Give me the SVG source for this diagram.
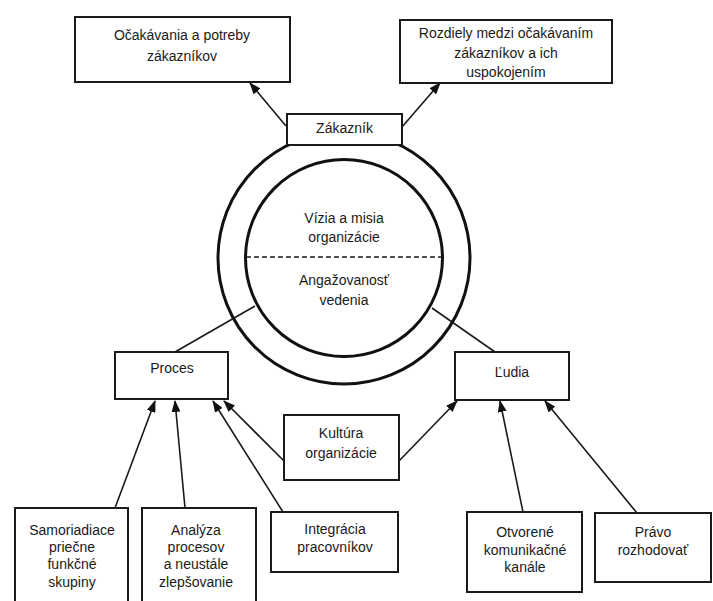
<svg xmlns="http://www.w3.org/2000/svg" width="713" height="601" viewBox="0 0 713 601">
<style>
  .box { fill: #ffffff; stroke: #1a1a1a; stroke-width: 2; }
  .ring { fill: none; stroke: #111111; stroke-width: 3; }
  .conn { fill: none; stroke: #1a1a1a; stroke-width: 1.6; }
  .arr { marker-end: url(#ah); }
  .dash { fill: none; stroke: #1a1a1a; stroke-width: 1.6; stroke-dasharray: 5 3; }
  text { font-family: "Liberation Sans", Arial, sans-serif; font-size: 14px; fill: #1a1a1a; text-anchor: middle; }
</style>
<defs>
  <marker id="ah" markerUnits="userSpaceOnUse" markerWidth="12" markerHeight="9" refX="11" refY="4.5" orient="auto">
    <path d="M0,0 L12,4.5 L0,9 z" fill="#111111"/>
  </marker>
</defs>
<rect x="0" y="0" width="713" height="601" fill="#ffffff"/>

<g id="circle">
  <circle class="ring" cx="344" cy="258" r="126"/>
  <circle class="ring" cx="344" cy="258" r="98.5"/>
  <line class="dash" x1="246" y1="257" x2="442" y2="257"/>
  <text x="344" y="223">Vízia a misia</text>
  <text x="344" y="242">organizácie</text>
  <text x="344" y="285">Angažovanosť</text>
  <text x="344" y="305">vedenia</text>
</g>

<g id="connectors">
  <line class="conn arr" x1="286" y1="126" x2="250" y2="83"/>
  <line class="conn arr" x1="402" y1="127" x2="440" y2="83"/>
  <line class="conn" x1="255" y1="306" x2="175" y2="352"/>
  <line class="conn" x1="432" y1="308" x2="495" y2="352"/>
  <line class="conn arr" x1="284" y1="461" x2="224" y2="401"/>
  <line class="conn arr" x1="399" y1="461" x2="457" y2="401"/>
  <line class="conn arr" x1="115" y1="508" x2="155" y2="401"/>
  <line class="conn arr" x1="185" y1="508" x2="175" y2="401"/>
  <line class="conn arr" x1="283" y1="512" x2="213" y2="401"/>
  <line class="conn arr" x1="523" y1="512" x2="500" y2="401"/>
  <line class="conn arr" x1="637" y1="513" x2="545" y2="401"/>
</g>

<g id="ocakavania">
  <rect class="box" x="75" y="17" width="215" height="65"/>
  <text x="182" y="40">Očakávania a potreby</text>
  <text x="182" y="61">zákazníkov</text>
</g>

<g id="rozdiely">
  <rect class="box" x="400" y="20" width="212" height="63"/>
  <text x="506" y="38">Rozdiely medzi očakávaním</text>
  <text x="506" y="58">zákazníkov a ich</text>
  <text x="506" y="77">uspokojením</text>
</g>

<g id="zakaznik">
  <rect class="box" x="287" y="114" width="115" height="31"/>
  <text x="344.5" y="133">Zákazník</text>
</g>

<g id="proces">
  <rect class="box" x="115" y="352" width="113" height="47"/>
  <text x="172" y="373">Proces</text>
</g>

<g id="ludia">
  <rect class="box" x="455" y="352" width="114" height="48"/>
  <text x="512" y="377">Ľudia</text>
</g>

<g id="kultura">
  <rect class="box" x="284" y="415" width="115" height="65"/>
  <text x="341" y="438">Kultúra</text>
  <text x="341" y="458">organizácie</text>
</g>

<g id="samoriadiace">
  <rect class="box" x="15" y="508" width="113" height="105"/>
  <text x="72" y="535">Samoriadiace</text>
  <text x="72" y="552">priečne</text>
  <text x="72" y="569">funkčné</text>
  <text x="72" y="587">skupiny</text>
</g>

<g id="analyza">
  <rect class="box" x="142" y="508" width="114" height="105"/>
  <text x="196" y="535">Analýza</text>
  <text x="196" y="552">procesov</text>
  <text x="196" y="569">a neustále</text>
  <text x="196" y="587">zlepšovanie</text>
</g>

<g id="integracia">
  <rect class="box" x="271" y="512" width="127" height="60"/>
  <text x="335" y="534">Integrácia</text>
  <text x="335" y="552">pracovníkov</text>
</g>

<g id="otvorene">
  <rect class="box" x="467" y="512" width="115" height="80"/>
  <text x="525" y="537">Otvorené</text>
  <text x="525" y="555">komunikačné</text>
  <text x="525" y="572">kanále</text>
</g>

<g id="pravo">
  <rect class="box" x="595" y="513" width="116" height="69"/>
  <text x="653" y="537">Právo</text>
  <text x="653" y="555">rozhodovať</text>
</g>
</svg>
